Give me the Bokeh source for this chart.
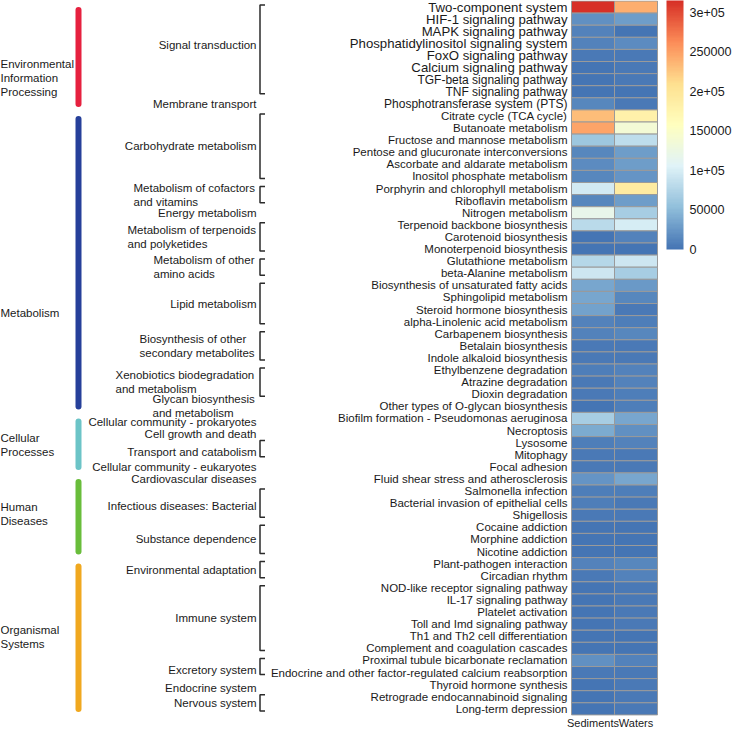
import numpy as np
from bokeh.plotting import figure
from bokeh.models import Range1d, ColumnDataSource, LinearColorMapper, ColorBar, FixedTicker
from bokeh.core.properties import value
from bokeh.embed import file_html
from bokeh.resources import INLINE

# ---------------- data ----------------
pathways = [
    "Two-component system", "HIF-1 signaling pathway", "MAPK signaling pathway",
    "Phosphatidylinositol signaling system", "FoxO signaling pathway", "Calcium signaling pathway",
    "TGF-beta signaling pathway", "TNF signaling pathway", "Phosphotransferase system (PTS)",
    "Citrate cycle (TCA cycle)", "Butanoate metabolism", "Fructose and mannose metabolism",
    "Pentose and glucuronate interconversions", "Ascorbate and aldarate metabolism",
    "Inositol phosphate metabolism", "Porphyrin and chlorophyll metabolism", "Riboflavin metabolism",
    "Nitrogen metabolism", "Terpenoid backbone biosynthesis", "Carotenoid biosynthesis",
    "Monoterpenoid biosynthesis", "Glutathione metabolism", "beta-Alanine metabolism",
    "Biosynthesis of unsaturated fatty acids", "Sphingolipid metabolism", "Steroid hormone biosynthesis",
    "alpha-Linolenic acid metabolism", "Carbapenem biosynthesis", "Betalain biosynthesis",
    "Indole alkaloid biosynthesis", "Ethylbenzene degradation", "Atrazine degradation",
    "Dioxin degradation", "Other types of O-glycan biosynthesis",
    "Biofilm formation - Pseudomonas aeruginosa", "Necroptosis", "Lysosome", "Mitophagy",
    "Focal adhesion", "Fluid shear stress and atherosclerosis", "Salmonella infection",
    "Bacterial invasion of epithelial cells", "Shigellosis", "Cocaine addiction", "Morphine addiction",
    "Nicotine addiction", "Plant-pathogen interaction", "Circadian rhythm",
    "NOD-like receptor signaling pathway", "IL-17 signaling pathway", "Platelet activation",
    "Toll and Imd signaling pathway", "Th1 and Th2 cell differentiation",
    "Complement and coagulation cascades", "Proximal tubule bicarbonate reclamation",
    "Endocrine and other factor-regulated calcium reabsorption", "Thyroid hormone synthesis",
    "Retrograde endocannabinoid signaling", "Long-term depression",
]

sediments = [
    312000, 19000, 12000, 10000, 6000, 3000, 3000, 3000, 14000,
    233000, 246000, 60000, 15000, 17000, 14000, 95000, 15000, 117000, 79000, 1500, 2000,
    77000, 92000, 36000, 36000, 33000, 11000, 10000, 4000, 4000, 9000, 4000, 4000, 3000,
    67000, 38000, 9000, 4000, 4000, 25000, 9000, 8000, 6000, 3000, 3000, 3000,
    12000, 5000, 3000, 3000, 3000, 3000, 3000, 3000, 20000, 4000, 3000, 3000, 3000,
]

waters = [
    240000, 31000, 3000, 18000, 4000, 4000, 5000, 3000, 5000,
    180000, 136000, 85000, 30000, 29000, 24000, 192000, 30000, 68000, 98000, 11000, 3000,
    94000, 68000, 26000, 15000, 6000, 7000, 15000, 6000, 6000, 12000, 10000, 8000, 7000,
    36000, 22000, 12000, 5000, 6000, 35000, 8000, 6000, 5000, 3000, 3000, 3000,
    15000, 10000, 5000, 4000, 4000, 4000, 3000, 3000, 12000, 5000, 4000, 4000, 4000,
]

samples = ["Sediments", "Waters"]

categories = ["Environmental Information Processing", "Metabolism", "Cellular Processes",
              "Human Diseases", "Organismal Systems"]
category_sizes = [9, 25, 5, 7, 13]
category_lines = [["Environmental", "Information", "Processing"], ["Metabolism"],
                  ["Cellular", "Processes"], ["Human", "Diseases"], ["Organismal", "Systems"]]

subcategories = [
    "Signal transduction", "Membrane transport", "Carbohydrate metabolism",
    "Metabolism of cofactors and vitamins", "Energy metabolism",
    "Metabolism of terpenoids and polyketides", "Metabolism of other amino acids",
    "Lipid metabolism", "Biosynthesis of other secondary metabolites",
    "Xenobiotics biodegradation and metabolism", "Glycan biosynthesis and metabolism",
    "Cellular community - prokaryotes", "Cell growth and death", "Transport and catabolism",
    "Cellular community - eukaryotes", "Cardiovascular diseases", "Infectious diseases: Bacterial",
    "Substance dependence", "Environmental adaptation", "Immune system", "Excretory system",
    "Endocrine system", "Nervous system",
]
subcategory_sizes = [8, 1, 6, 2, 1, 3, 2, 4, 3, 3, 1, 1, 1, 2, 1, 1, 3, 3, 2, 6, 2, 1, 2]

sub_wrap = {
    "Metabolism of cofactors and vitamins": ["Metabolism of cofactors", "and vitamins"],
    "Metabolism of terpenoids and polyketides": ["Metabolism of terpenoids", "and polyketides"],
    "Metabolism of other amino acids": ["Metabolism of other", "amino acids"],
    "Biosynthesis of other secondary metabolites": ["Biosynthesis of other", "secondary metabolites"],
    "Xenobiotics biodegradation and metabolism": ["Xenobiotics biodegradation", "and metabolism"],
    "Glycan biosynthesis and metabolism": ["Glycan biosynthesis", "and metabolism"],
}

color_max = 315000
cbar_ticks = [0, 50000, 100000, 150000, 200000, 250000, 300000]
cbar_labels = ["0", "50000", "1e+05", "150000", "2e+05", "250000", "3e+05"]

# ---------------- layout / style ----------------
W, H = 732, 730
ROW_TOP, ROW_H = 0.5, 12.1
COL_LEFT, COL_W = 571, 43
ROWLABEL_X = 567
SUB_X = 256
BR_X, BR_TICK, BR_INSET = 259.5, 5, 4
CAT_BAR_X = 78
LINE_GAP = 14
CB_X, CB_W, CB_H = 666, 17, 249
sub_left = {  # left edge of wrapped label blocks
    "Metabolism of cofactors and vitamins": 133,
    "Metabolism of terpenoids and polyketides": 127,
    "Metabolism of other amino acids": 153,
    "Biosynthesis of other secondary metabolites": 139,
    "Xenobiotics biodegradation and metabolism": 115,
    "Glycan biosynthesis and metabolism": 152,
}
sub_nudge = {"Signal transduction": -4, "Cellular community - prokaryotes": 4,
             "Cell growth and death": 3, "Transport and catabolism": 3,
             "Infectious diseases: Bacterial": 3, "Excretory system": 3, "Endocrine system": 3}
cat_label_y = [77, 312, 444, 513, 636]
cat_colors = ["#E6213F", "#26409A", "#6CC4C7", "#69BD3B", "#F0A81F"]
TXT = "#1a1a1a"
FONT = "Liberation Sans"
SUB_FS = "11.5px"

anchors = ["#4575B4", "#91BFDB", "#E0F3F8", "#FFFFBF", "#FEE090", "#FC8D59", "#D73027"]
def _rgb(h):
    return np.array([int(h[i:i + 2], 16) for i in (1, 3, 5)], float)
arr = np.array([_rgb(c) for c in anchors])
tt = np.linspace(0, 1, 100)
pos = np.linspace(0, 1, len(anchors))
palette = ["#%02x%02x%02x" % tuple(int(round(np.interp(t, pos, arr[:, k]))) for k in range(3))
           for t in tt]

p = figure(width=W, height=H, x_range=Range1d(0, W), y_range=Range1d(H, 0),
           output_backend="svg", toolbar_location=None, min_border=0)
p.axis.visible = False
p.grid.visible = False
p.outline_line_color = None
p.background_fill_color = "white"

mapper = LinearColorMapper(palette=palette, low=0, high=color_max)

# heatmap cells
n = len(pathways)
cx, cy, cv = [], [], []
for j, series in enumerate([sediments, waters]):
    for i, v in enumerate(series):
        cx.append(COL_LEFT + (j + 0.5) * COL_W)
        cy.append(ROW_TOP + (i + 0.5) * ROW_H)
        cv.append(v)
src = ColumnDataSource(dict(x=cx, y=cy, v=cv))
p.rect(x="x", y="y", width=COL_W, height=ROW_H, source=src,
       fill_color={"field": "v", "transform": mapper}, line_color="#9a9a9a", line_width=1)

# row labels
row_y = [ROW_TOP + (i + 0.5) * ROW_H for i in range(n)]
row_fs = ["%.1fpx" % (13.2 if i < 6 else (12 if i < 9 else 11.5)) for i in range(n)]
rsrc = ColumnDataSource(dict(x=[ROWLABEL_X] * n, y=row_y, text=pathways, fs=row_fs))
p.text(x="x", y="y", text="text", source=rsrc, text_align="right", text_baseline="middle",
       text_font=value(FONT), text_font_size="fs", text_color=TXT)

# column labels
p.text(x=[COL_LEFT + (j + 0.5) * COL_W for j in range(2)],
       y=[ROW_TOP + n * ROW_H + 8] * 2, text=samples, text_align="center",
       text_baseline="middle", text_font=value(FONT), text_font_size="11px", text_color=TXT)

# sub-category labels and brackets
start = 0
lx, ly, lt, la = [], [], [], []
bxs, bys = [], []
for name, k in zip(subcategories, subcategory_sizes):
    top = ROW_TOP + start * ROW_H
    bot = ROW_TOP + (start + k) * ROW_H
    cyc = (top + bot) / 2 + sub_nudge.get(name, 0)
    if name in sub_wrap:
        lines = sub_wrap[name]
        for m, ln in enumerate(lines):
            lx.append(sub_left[name])
            ly.append(cyc + (m - (len(lines) - 1) / 2) * LINE_GAP)
            lt.append(ln)
            la.append("left")
    else:
        lx.append(SUB_X); ly.append(cyc); lt.append(name); la.append("right")
    if k >= 2:
        t0, b0 = top + BR_INSET, bot - BR_INSET
        bxs.append([BR_X + BR_TICK, BR_X, BR_X, BR_X + BR_TICK])
        bys.append([t0, t0, b0, b0])
    start += k
ssrc = ColumnDataSource(dict(x=lx, y=ly, text=lt, align=la))
p.text(x="x", y="y", text="text", source=ssrc, text_align="align", text_baseline="middle",
       text_font=value(FONT), text_font_size=SUB_FS, text_color=TXT)
p.multi_line(xs=bxs, ys=bys, line_color="#2b2b2b", line_width=1.5)

# category bars and labels
start = 0
for name, k, lines, ly0, col in zip(categories, category_sizes, category_lines, cat_label_y, cat_colors):
    top = ROW_TOP + start * ROW_H
    bot = ROW_TOP + (start + k) * ROW_H
    p.segment(x0=[CAT_BAR_X], y0=[top + 9], x1=[CAT_BAR_X], y1=[bot - 6],
              line_color=col, line_width=6, line_cap="round")
    ys_ = [ly0 + (m - (len(lines) - 1) / 2) * LINE_GAP for m in range(len(lines))]
    p.text(x=[0] * len(lines), y=ys_, text=lines, text_align="left", text_baseline="middle",
           text_font=value(FONT), text_font_size=SUB_FS, text_color=TXT)
    start += k

# colour bar
cb = ColorBar(color_mapper=mapper, ticker=FixedTicker(ticks=cbar_ticks),
              major_label_overrides={t: l for t, l in zip(cbar_ticks, cbar_labels)},
              width=CB_W, height=CB_H, location=(CB_X, H - CB_H), padding=0,
              label_standoff=6, major_tick_line_color=None, minor_tick_line_color=None,
              bar_line_color=None, border_line_color=None, background_fill_alpha=0,
              major_label_text_font=FONT, major_label_text_font_size="12.6px",
              major_label_text_color=TXT)
p.add_layout(cb)

open("out.html", "w").write(file_html(p, INLINE))
